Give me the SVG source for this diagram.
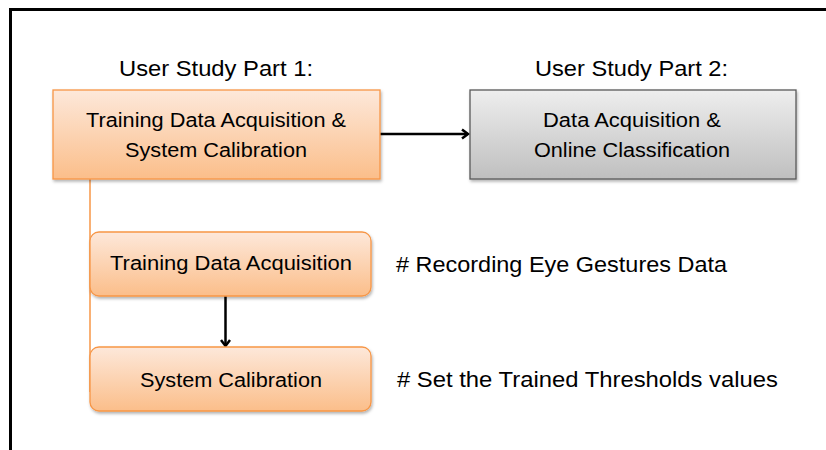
<svg xmlns="http://www.w3.org/2000/svg" width="826" height="450" viewBox="0 0 826 450">
<style>
text{font-family:"Liberation Sans",Arial,sans-serif;fill:#000}
.h{font-size:22.5px}
.b{font-size:20px;text-anchor:middle}
.n{font-size:22px}
.or{fill:url(#og);stroke:#F79646;stroke-width:1.3}
.gr{fill:url(#gg);stroke:#595959;stroke-width:1.3}
.c{stroke:#000;stroke-width:2.5;fill:none}
</style>
<defs>
<linearGradient id="og" x1="0" y1="0" x2="0" y2="1">
<stop offset="0" stop-color="#FDE8DA"/>
<stop offset="1" stop-color="#FBBE8A"/>
</linearGradient>
<linearGradient id="gg" x1="0" y1="0" x2="0" y2="1">
<stop offset="0" stop-color="#EEEEEE"/>
<stop offset="1" stop-color="#BFBFBF"/>
</linearGradient>
<filter id="sh" x="-5%" y="-10%" width="110%" height="125%">
<feDropShadow dx="1" dy="2" stdDeviation="1.5" flood-color="#000" flood-opacity="0.3"/>
</filter>
<marker id="ah" markerWidth="12" markerHeight="12" refX="9" refY="6" orient="auto" markerUnits="userSpaceOnUse">
<path d="M3,1.5 L9,6 L3,10.5" fill="none" stroke="#000" stroke-width="2.5"/>
</marker>
</defs>
<rect width="826" height="450" fill="#fff"/>
<path d="M10.5,450 V9.5 H826" fill="none" stroke="#000" stroke-width="3"/>

<g id="label-part1"><text class="h" x="119" y="76" textLength="194" lengthAdjust="spacingAndGlyphs">User Study Part 1:</text></g>
<g id="label-part2"><text class="h" x="535" y="76" textLength="193" lengthAdjust="spacingAndGlyphs">User Study Part 2:</text></g>

<g id="connectors">
<line x1="90" y1="179" x2="90" y2="392" stroke="#F79646" stroke-width="1.5"/>
<line class="c" x1="380" y1="134" x2="468" y2="134" marker-end="url(#ah)"/>
<line class="c" x1="225.5" y1="296" x2="225.5" y2="346" marker-end="url(#ah)"/>
</g>

<g id="node-part1">
<rect class="or" x="53" y="90" width="327" height="89" filter="url(#sh)"/>
<text class="b" x="216" y="127" textLength="260" lengthAdjust="spacingAndGlyphs">Training Data Acquisition &amp;</text>
<text class="b" x="216" y="157" textLength="182" lengthAdjust="spacingAndGlyphs">System Calibration</text>
</g>

<g id="node-part2">
<rect class="gr" x="470" y="90" width="326" height="89" filter="url(#sh)"/>
<text class="b" x="632" y="127" textLength="178" lengthAdjust="spacingAndGlyphs">Data Acquisition &amp;</text>
<text class="b" x="632" y="157" textLength="196" lengthAdjust="spacingAndGlyphs">Online Classification</text>
</g>

<g id="node-training">
<rect class="or" x="90" y="232" width="281" height="64" rx="9" filter="url(#sh)"/>
<text class="b" x="231" y="270" textLength="242" lengthAdjust="spacingAndGlyphs">Training Data Acquisition</text>
</g>

<g id="node-calibration">
<rect class="or" x="90" y="347" width="281" height="64" rx="9" filter="url(#sh)"/>
<text class="b" x="231" y="387" textLength="182" lengthAdjust="spacingAndGlyphs">System Calibration</text>
</g>

<g id="note-recording"><text class="n" x="396" y="272" textLength="331" lengthAdjust="spacingAndGlyphs"># Recording Eye Gestures Data</text></g>
<g id="note-thresholds"><text class="n" x="397" y="387" textLength="381" lengthAdjust="spacingAndGlyphs"># Set the Trained Thresholds values</text></g>
</svg>
